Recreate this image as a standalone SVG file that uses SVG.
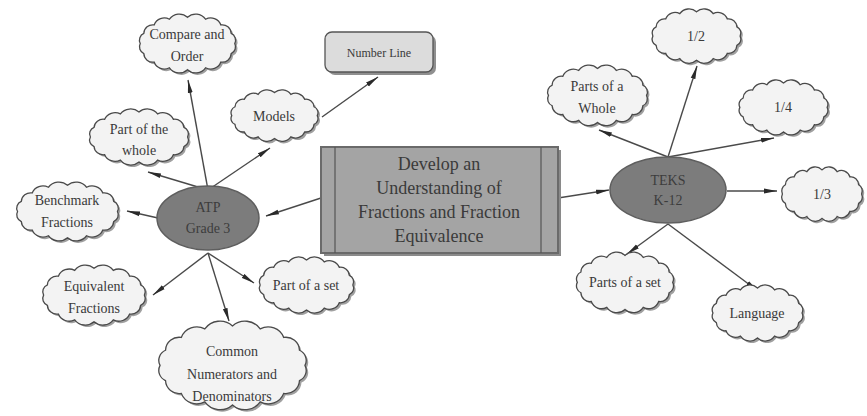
<svg xmlns="http://www.w3.org/2000/svg" width="867" height="416" viewBox="0 0 867 416" font-family="'Liberation Serif', 'Times New Roman', serif">
<style>
.cloud{fill:#f3f3f3;stroke:#4a4a4a;stroke-width:1.3}
.shadow{fill:#a0a0a0;stroke:none}
.t{font-family:'Liberation Serif',serif;font-size:14px;fill:#3a3a3a;text-anchor:middle}
.big{font-family:'Liberation Serif',serif;font-size:18px;fill:#3a3a3a;text-anchor:middle}
.oval{fill:#7c7c7c;stroke:#5e5e5e;stroke-width:1.5}
.ot{font-family:'Liberation Serif',serif;font-size:14px;fill:#3c3c3c;text-anchor:middle}
.edge{stroke:#4a4a4a;stroke-width:1.4;fill:none;marker-end:url(#arr)}
</style>
<defs>
<path id="cl" vector-effect="non-scaling-stroke" d="M95 30 A7 7 0 0 1 91.6 39.6 A8.5 8.5 0 0 1 81.8 47.7 A10.3 10.3 0 0 1 67.2 53.1 A11.5 11.5 0 0 1 50 55 A11.5 11.5 0 0 1 32.8 53.1 A10.3 10.3 0 0 1 18.2 47.7 A8.5 8.5 0 0 1 8.4 39.6 A7 7 0 0 1 5 30 A7 7 0 0 1 8.4 20.4 A8.5 8.5 0 0 1 18.2 12.3 A10.3 10.3 0 0 1 32.8 6.9 A11.5 11.5 0 0 1 50 5 A11.5 11.5 0 0 1 67.2 6.9 A10.3 10.3 0 0 1 81.8 12.3 A8.5 8.5 0 0 1 91.6 20.4 A7 7 0 0 1 95 30 Z"/>
<marker id="arr" viewBox="0 0 13 6" markerWidth="13" markerHeight="6" refX="13" refY="3" orient="auto" markerUnits="userSpaceOnUse">
<path d="M0 0.6 L13 3 L0 5.4 Z" fill="#2a2a2a"/>
</marker>
</defs>
<rect width="867" height="416" fill="#fff"/>

<g id="connectors">
<line class="edge" x1="208" y1="190" x2="188" y2="80"/>
<line class="edge" x1="208" y1="190" x2="270" y2="148"/>
<line class="edge" x1="208" y1="190" x2="148" y2="172"/>
<line class="edge" x1="322" y1="117" x2="378" y2="77"/>
<line class="edge" x1="321" y1="198" x2="266" y2="216"/>
<line class="edge" x1="158" y1="218" x2="127" y2="211"/>
<line class="edge" x1="208" y1="253" x2="153" y2="295"/>
<line class="edge" x1="208" y1="253" x2="229" y2="321"/>
<line class="edge" x1="208" y1="253" x2="254" y2="283"/>
<line class="edge" x1="558" y1="198" x2="609" y2="190"/>
<line class="edge" x1="668" y1="157" x2="697" y2="66"/>
<line class="edge" x1="668" y1="157" x2="599" y2="130"/>
<line class="edge" x1="668" y1="157" x2="774" y2="138"/>
<line class="edge" x1="727" y1="191" x2="777" y2="191"/>
<line class="edge" x1="668" y1="224" x2="627" y2="254"/>
<line class="edge" x1="668" y1="224" x2="758" y2="291"/>
</g>

<g id="central">
<rect x="324" y="150" width="237" height="106" fill="#8a8a8a"/>
<rect x="321" y="147" width="237" height="106" fill="#a4a4a4" stroke="#6a6a6a" stroke-width="2"/>
<line x1="335" y1="147" x2="335" y2="253" stroke="#555" stroke-width="1.2"/>
<line x1="541" y1="147" x2="541" y2="253" stroke="#555" stroke-width="1.2"/>
<text class="big" x="439" y="170">Develop an</text>
<text class="big" x="439" y="194">Understanding of</text>
<text class="big" x="439" y="218">Fractions and Fraction</text>
<text class="big" x="439" y="242">Equivalence</text>
</g>

<g id="atp">
<ellipse class="oval" cx="208" cy="218" rx="51" ry="32"/>
<text class="ot" x="208" y="212">ATP</text>
<text class="ot" x="208" y="233">Grade 3</text>
</g>

<g id="teks">
<ellipse class="oval" cx="668" cy="190" rx="58" ry="33"/>
<text class="ot" x="668" y="185">TEKS</text>
<text class="ot" x="668" y="205">K-12</text>
</g>

<g id="compare">
<use href="#cl" class="shadow" transform="translate(137,14) scale(1.05,1.05)"/>
<use href="#cl" class="cloud" transform="translate(135,12) scale(1.05,1.05)"/>
<text class="t" x="187" y="39">Compare and</text>
<text class="t" x="187" y="61">Order</text>
</g>

<g id="numberline">
<rect x="328" y="35" width="108" height="40" rx="7" fill="#8f8f8f"/>
<rect x="325" y="32" width="108" height="40" rx="7" fill="#dcdcdc" stroke="#555" stroke-width="1.3"/>
<text class="t" x="379" y="57" style="font-size:12px">Number Line</text>
</g>

<g id="models">
<use href="#cl" class="shadow" transform="translate(229,90) scale(0.95,0.92)"/>
<use href="#cl" class="cloud" transform="translate(227,88) scale(0.95,0.92)"/>
<text class="t" x="274" y="121">Models</text>
</g>

<g id="partwhole">
<use href="#cl" class="shadow" transform="translate(87,109) scale(1.08,1.0)"/>
<use href="#cl" class="cloud" transform="translate(85,107) scale(1.08,1.0)"/>
<text class="t" x="139" y="134">Part of the</text>
<text class="t" x="139" y="155">whole</text>
</g>

<g id="benchmark">
<use href="#cl" class="shadow" transform="translate(14,182) scale(1.11,1.05)"/>
<use href="#cl" class="cloud" transform="translate(12,180) scale(1.11,1.05)"/>
<text class="t" x="67" y="205">Benchmark</text>
<text class="t" x="67" y="227">Fractions</text>
</g>

<g id="equivalent">
<use href="#cl" class="shadow" transform="translate(40,265) scale(1.12,1.07)"/>
<use href="#cl" class="cloud" transform="translate(38,263) scale(1.12,1.07)"/>
<text class="t" x="94" y="291">Equivalent</text>
<text class="t" x="94" y="313">Fractions</text>
</g>

<g id="partset">
<use href="#cl" class="shadow" transform="translate(257,257) scale(1.03,1.0)"/>
<use href="#cl" class="cloud" transform="translate(255,255) scale(1.03,1.0)"/>
<text class="t" x="306" y="290">Part of a set</text>
</g>

<g id="common">
<use href="#cl" class="shadow" transform="translate(154,320) scale(1.61,1.58)"/>
<use href="#cl" class="cloud" transform="translate(152,318) scale(1.61,1.58)"/>
<text class="t" x="232" y="356">Common</text>
<text class="t" x="232" y="379">Numerators and</text>
<text class="t" x="232" y="401">Denominators</text>
</g>

<g id="half">
<use href="#cl" class="shadow" transform="translate(650,9) scale(0.97,0.97)"/>
<use href="#cl" class="cloud" transform="translate(648,7) scale(0.97,0.97)"/>
<text class="t" x="696" y="41">1/2</text>
</g>

<g id="partswhole">
<use href="#cl" class="shadow" transform="translate(545,65) scale(1.09,1.08)"/>
<use href="#cl" class="cloud" transform="translate(543,63) scale(1.09,1.08)"/>
<text class="t" x="597" y="91">Parts of a</text>
<text class="t" x="597" y="113">Whole</text>
</g>

<g id="quarter">
<use href="#cl" class="shadow" transform="translate(737,80) scale(0.97,0.98)"/>
<use href="#cl" class="cloud" transform="translate(735,78) scale(0.97,0.98)"/>
<text class="t" x="783" y="112">1/4</text>
</g>

<g id="third">
<use href="#cl" class="shadow" transform="translate(780,167) scale(0.88,0.97)"/>
<use href="#cl" class="cloud" transform="translate(778,165) scale(0.88,0.97)"/>
<text class="t" x="822" y="199">1/3</text>
</g>

<g id="partsset">
<use href="#cl" class="shadow" transform="translate(574,252) scale(1.06,1.08)"/>
<use href="#cl" class="cloud" transform="translate(572,250) scale(1.06,1.08)"/>
<text class="t" x="625" y="287">Parts of a set</text>
</g>

<g id="language">
<use href="#cl" class="shadow" transform="translate(710,285) scale(0.99,1.0)"/>
<use href="#cl" class="cloud" transform="translate(708,283) scale(0.99,1.0)"/>
<text class="t" x="757" y="318">Language</text>
</g>
</svg>
